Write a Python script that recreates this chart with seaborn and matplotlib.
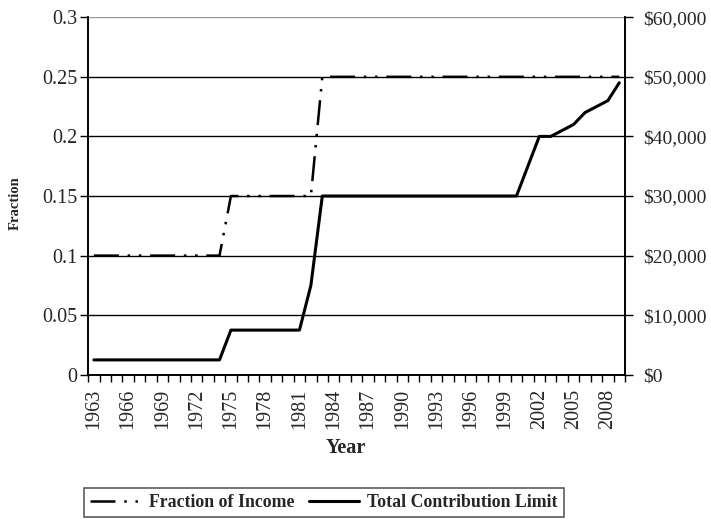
import numpy as np
import pandas as pd
import seaborn as sns
import matplotlib.pyplot as plt
from matplotlib.ticker import FixedLocator, FuncFormatter

years = list(range(1963, 2010))

# fraction of income that can be contributed
fraction = [0.10, 0.10, 0.10, 0.10, 0.10, 0.10, 0.10, 0.10, 0.10, 0.10, 0.10, 0.10,
            0.15, 0.15, 0.15, 0.15, 0.15, 0.15, 0.15, 0.15,
            0.25, 0.25, 0.25, 0.25, 0.25, 0.25, 0.25, 0.25, 0.25, 0.25, 0.25, 0.25,
            0.25, 0.25, 0.25, 0.25, 0.25, 0.25, 0.25, 0.25, 0.25, 0.25, 0.25, 0.25,
            0.25, 0.25, 0.25]

# total contribution limit in dollars
limit = [2500, 2500, 2500, 2500, 2500, 2500, 2500, 2500, 2500, 2500, 2500, 2500,
         7500, 7500, 7500, 7500, 7500, 7500, 7500,
         15000,
         30000, 30000, 30000, 30000, 30000, 30000, 30000, 30000, 30000, 30000,
         30000, 30000, 30000, 30000, 30000, 30000, 30000, 30000,
         35000, 40000, 40000, 41000, 42000, 44000, 45000, 46000, 49000]

year_labels = [str(y) for y in range(1963, 2009, 3)]
frac_ticks = [0, 0.05, 0.1, 0.15, 0.2, 0.25, 0.3]
dollar_ticks = [0, 10000, 20000, 30000, 40000, 50000, 60000]

df = pd.DataFrame({'Year': years, 'Fraction': fraction, 'Limit': limit})

sns.set_style('white')
plt.rcParams['font.family'] = ['Liberation Serif', 'DejaVu Serif']

fig = plt.figure(figsize=(7.11, 5.22), dpi=100)
ax = fig.add_axes([0.124, 0.282, 0.755, 0.685])
ax2 = ax.twinx()

sns.lineplot(data=df, x='Year', y='Fraction', ax=ax, color='black', lw=1.8,
             label='Fraction of Income', legend=False)
ax.lines[-1].set_dashes([10, 3.5, 1, 3.5, 1, 3.5])
sns.lineplot(data=df, x='Year', y='Limit', ax=ax2, color='black', lw=2.2,
             label='Total Contribution Limit', legend=False)

ax.set_xlim(1962.5, 2009.5)
ax.set_ylim(0, 0.3)
ax2.set_ylim(0, 60000)

ax.set_xticks([int(s) for s in year_labels])
ax.set_xticklabels(year_labels, rotation=90)
ax.xaxis.set_minor_locator(FixedLocator(np.arange(1962.5, 2010, 1)))
ax.tick_params(axis='x', which='major', length=0, pad=10, labelsize=14.5)
ax.tick_params(axis='x', which='minor', length=5, width=1, direction='out',
               bottom=True, color='black')

ax.set_yticks(frac_ticks)
ax.set_yticklabels(['0', '0.05', '0.1', '0.15', '0.2', '0.25', '0.3'])
ax.tick_params(axis='y', length=6, width=1, direction='out', left=True,
               color='black', labelsize=14.5, pad=2)

ax2.set_yticks(dollar_ticks)
ax2.yaxis.set_major_formatter(FuncFormatter(lambda v, p: f'${v:,.0f}'))
ax2.tick_params(axis='y', length=6, width=1, direction='out', right=True,
                color='black', labelsize=14, pad=7)

ax.grid(axis='y', color='black', lw=1)
ax.grid(axis='x', visible=False)
ax2.grid(False)
ax.yaxis.get_gridlines()[-1].set_color('#999999')

for a in (ax, ax2):
    a.spines['top'].set_visible(False)
    for s in ('left', 'right', 'bottom'):
        a.spines[s].set_color('black')
        a.spines[s].set_linewidth(1.2)

ax.set_xlabel('Year', fontweight='bold', fontsize=14.5)
ax.xaxis.set_label_coords(0.479, -0.178)
ax.set_ylabel('Fraction', fontweight='bold', fontsize=10.5)
ax.yaxis.set_label_coords(-0.123, 0.48)
ax2.set_ylabel('')

handles = [ax.lines[0], ax2.lines[0]]
leg = fig.legend(handles, [h.get_label() for h in handles], loc='center',
                 bbox_to_anchor=(0.456, 0.037), ncol=2, frameon=True,
                 fancybox=False, edgecolor='#333333', handlelength=2.8,
                 handletextpad=0.5, columnspacing=0.8, borderpad=0.35,
                 prop={'weight': 'bold', 'size': 12.8})
leg.get_frame().set_linewidth(1.2)

fig.savefig('out.png', dpi=100)
